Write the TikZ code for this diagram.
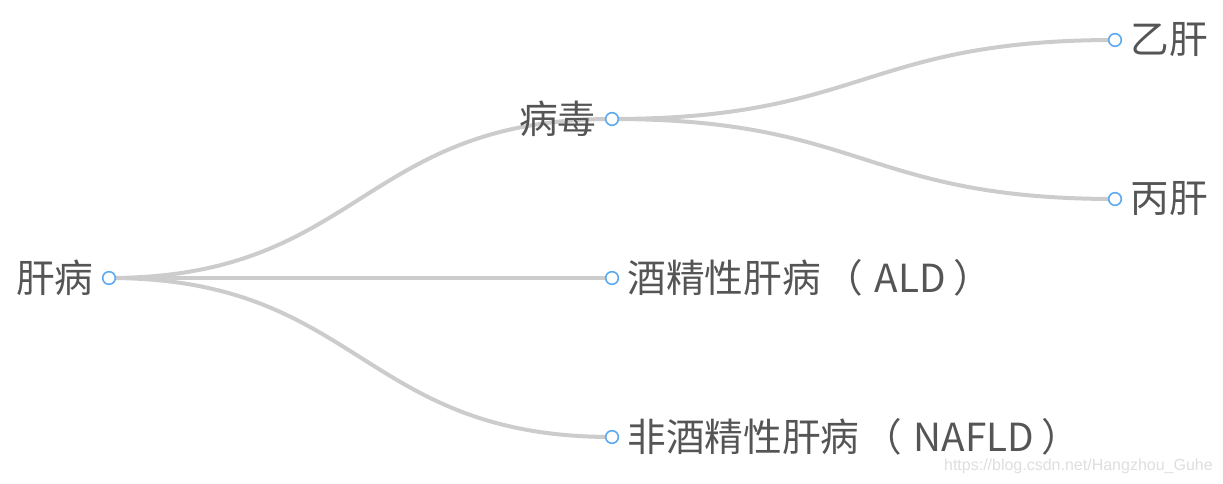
\documentclass[tikz,border=0pt]{standalone}
\usepackage{fontspec}
\newfontfamily\cjk{Noto Sans CJK SC}
\newfontfamily\wmfont{Liberation Sans}
\usetikzlibrary{positioning,backgrounds}
\definecolor{edgegray}{HTML}{CCCCCC}
\definecolor{dotblue}{HTML}{5DAAF0}
\definecolor{textgray}{HTML}{555555}
\newcommand{\lpar}{\hspace{0.1em}（\hspace{0.3em}}
\newcommand{\rpar}{\hspace{0.2em}）}
\tikzset{
  dot/.style={circle, draw=dotblue, fill=white, line width=1.2pt, inner sep=0pt, minimum size=9.5pt},
  branch/.style={draw=edgegray, line width=3pt},
  tag/.style={font=\cjk\fontsize{29}{29}\selectfont, text=textgray, inner sep=0pt},
}

\begin{document}
\begin{tikzpicture}[x=0.75pt, y=-0.75pt, node distance=6pt]
\useasboundingbox (0,0) rectangle (1223,484);
% tree points
\node [dot] (liver) at (109,278) {};
\node [dot] (virus) at (612,119) {};
\node [dot] (ald) at (612,278) {};
\node [dot] (nafld) at (612,437) {};
\node [dot] (hepb) at (1115,40) {};
\node [dot] (hepc) at (1115,199) {};

% labels
\node [tag, left=of liver] (liverlbl) {肝病};
\node [tag, left=of virus] (viruslbl) {病毒};
\node [tag, right=of ald] (aldlbl) {酒精性肝病\lpar ALD\rpar};
\node [tag, right=of nafld] (nafldlbl) {非酒精性肝病\lpar NAFLD\rpar};
\node [tag, right=of hepb] (hepblbl) {乙肝};
\node [tag, right=of hepc] (hepclbl) {丙肝};

\begin{scope}[on background layer]
\draw[branch] (liver.center) .. controls +(251.5,0) and +(-251.5,0) .. (virus.center);
\draw[branch] (liver.center) -- (ald.center);
\draw[branch] (liver.center) .. controls +(251.5,0) and +(-251.5,0) .. (nafld.center);
\draw[branch] (virus.center) .. controls +(251.5,0) and +(-251.5,0) .. (hepb.center);
\draw[branch] (virus.center) .. controls +(251.5,0) and +(-251.5,0) .. (hepc.center);
\end{scope}

\node [font=\wmfont\fontsize{12}{12}\selectfont, text=black!13, anchor=east, inner sep=0pt] (mark) at (1213,466) {https://blog.csdn.net/Hangzhou\_Guhe};
\end{tikzpicture}
\end{document}
